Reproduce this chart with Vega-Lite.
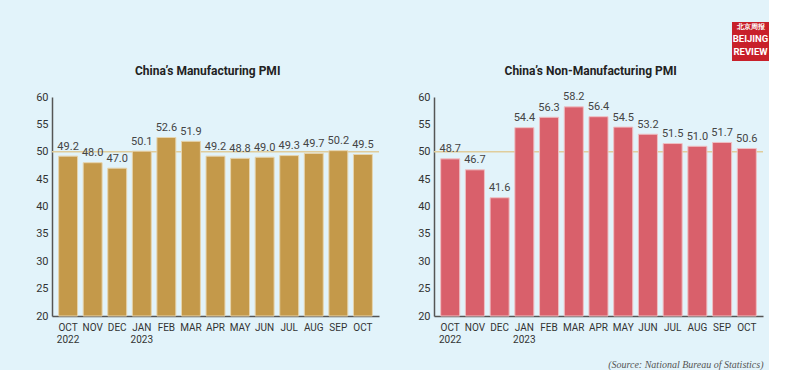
{
  "$schema": "https://vega.github.io/schema/vega-lite/v6.json",
  "background": "#e2f3fa",
  "padding": {"left": 35, "top": 22, "right": 0, "bottom": 0},
  "config": {
    "view": {"stroke": null},
    "font": "Roboto",
    "axis": {
      "domainColor": "#555555",
      "domainWidth": 1.5,
      "ticks": false,
      "grid": false,
      "labelColor": "#333333",
      "labelFont": "Roboto",
      "labelOverlap": false
    }
  },
  "datasets": {
    "pmi": [
      {"month": "OCT 2022", "mfg": 49.2, "nonmfg": 48.7},
      {"month": "NOV", "mfg": 48.0, "nonmfg": 46.7},
      {"month": "DEC", "mfg": 47.0, "nonmfg": 41.6},
      {"month": "JAN 2023", "mfg": 50.1, "nonmfg": 54.4},
      {"month": "FEB", "mfg": 52.6, "nonmfg": 56.3},
      {"month": "MAR", "mfg": 51.9, "nonmfg": 58.2},
      {"month": "APR", "mfg": 49.2, "nonmfg": 56.4},
      {"month": "MAY", "mfg": 48.8, "nonmfg": 54.5},
      {"month": "JUN", "mfg": 49.0, "nonmfg": 53.2},
      {"month": "JUL", "mfg": 49.3, "nonmfg": 51.5},
      {"month": "AUG", "mfg": 49.7, "nonmfg": 51.0},
      {"month": "SEP", "mfg": 50.2, "nonmfg": 51.7},
      {"month": "OCT", "mfg": 49.5, "nonmfg": 50.6}
    ],
    "logo": [
      {"line": "北京周报", "k": 1},
      {"line": "BEIJING", "k": 2},
      {"line": "REVIEW", "k": 3}
    ],
    "ref": [{"level": 50}]
  },
  "spacing": 4,
  "vconcat": [
    {
      "spacing": 0,
      "hconcat": [
        {
          "width": 680,
          "height": 39,
          "data": {"values": []},
          "mark": "text",
          "encoding": {}
        },
        {
          "width": 37,
          "height": 39,
          "view": {"fill": "#c8202a", "stroke": null},
          "data": {"name": "logo"},
          "mark": {"type": "text", "color": "white", "baseline": "middle", "fontWeight": "bold"},
          "encoding": {
            "text": {"field": "line"},
            "y": {"field": "k", "type": "quantitative", "scale": {"domain": [0.62, 3.74], "reverse": true, "nice": false, "zero": false}, "axis": null},
            "size": {"condition": {"test": "datum.k == 1", "value": 7}, "value": 9.5}
          }
        }
      ]
    },
    {
      "spacing": 37,
      "hconcat": [
        {
          "width": 327,
          "height": 219,
          "title": {"text": "China’s Manufacturing PMI", "font": "Roboto", "fontSize": 12, "fontWeight": "bold", "color": "#222222", "anchor": "middle", "frame": "bounds", "offset": 13},
          "data": {"name": "pmi"},
          "layer": [
            {
              "data": {"name": "ref"},
              "mark": {"type": "rule", "color": "#e0cd9c", "strokeWidth": 1.3},
              "encoding": {"y": {"field": "level", "type": "quantitative", "scale": {"domain": [20, 60], "nice": false, "zero": false},
                "axis": {"title": null, "values": [20, 25, 30, 35, 40, 45, 50, 55, 60], "labelPadding": 4, "labelFontSize": 11}}}
            },
            {
              "mark": {"type": "bar", "color": "#c4994a", "stroke": "#e6d4ae", "strokeWidth": 1},
              "encoding": {
                "x": {"field": "month", "type": "ordinal", "sort": null, "scale": {"paddingInner": 0.23, "paddingOuter": 0.27},
                  "axis": {"title": null, "labelAngle": 0, "labelPadding": 6, "labelFontSize": 10, "labelExpr": "split(datum.value, ' ')", "labelLineHeight": 12.5}},
                "y": {"field": "mfg", "type": "quantitative", "scale": {"domain": [20, 60], "nice": false, "zero": false},
                  "axis": {"title": null, "values": [20, 25, 30, 35, 40, 45, 50, 55, 60], "labelPadding": 4, "labelFontSize": 11}},
                "y2": {"datum": 20}
              }
            },
            {
              "mark": {"type": "text", "baseline": "alphabetic", "dy": -6.5, "fontSize": 11, "color": "#444444"},
              "encoding": {
                "x": {"field": "month", "type": "ordinal", "sort": null},
                "y": {"field": "mfg", "type": "quantitative",
                  "axis": {"title": null, "values": [20, 25, 30, 35, 40, 45, 50, 55, 60], "labelPadding": 4, "labelFontSize": 11}},
                "text": {"field": "mfg", "type": "quantitative", "format": ".1f"}
              }
            }
          ]
        },
        {
          "width": 329,
          "height": 219,
          "title": {"text": "China’s Non-Manufacturing PMI", "font": "Roboto", "fontSize": 12, "fontWeight": "bold", "color": "#222222", "anchor": "middle", "frame": "bounds", "offset": 13},
          "data": {"name": "pmi"},
          "layer": [
            {
              "data": {"name": "ref"},
              "mark": {"type": "rule", "color": "#e0cd9c", "strokeWidth": 1.3},
              "encoding": {"y": {"field": "level", "type": "quantitative", "scale": {"domain": [20, 60], "nice": false, "zero": false},
                "axis": {"title": null, "values": [20, 25, 30, 35, 40, 45, 50, 55, 60], "labelPadding": 4, "labelFontSize": 11}}}
            },
            {
              "mark": {"type": "bar", "color": "#d9606b", "stroke": "#efc0c4", "strokeWidth": 1},
              "encoding": {
                "x": {"field": "month", "type": "ordinal", "sort": null, "scale": {"paddingInner": 0.23, "paddingOuter": 0.27},
                  "axis": {"title": "(Source: National Bureau of Statistics)", "titleFont": "Liberation Serif", "titleFontStyle": "italic", "titleFontWeight": "normal", "titleFontSize": 10, "titleColor": "#555555", "titleAnchor": "end", "titlePadding": 15,
                    "labelAngle": 0, "labelPadding": 6, "labelFontSize": 10, "labelExpr": "split(datum.value, ' ')", "labelLineHeight": 12.5}},
                "y": {"field": "nonmfg", "type": "quantitative", "scale": {"domain": [20, 60], "nice": false, "zero": false},
                  "axis": {"title": null, "values": [20, 25, 30, 35, 40, 45, 50, 55, 60], "labelPadding": 4, "labelFontSize": 11}},
                "y2": {"datum": 20}
              }
            },
            {
              "mark": {"type": "text", "baseline": "alphabetic", "dy": -6.5, "fontSize": 11, "color": "#444444"},
              "encoding": {
                "x": {"field": "month", "type": "ordinal", "sort": null},
                "y": {"field": "nonmfg", "type": "quantitative",
                  "axis": {"title": null, "values": [20, 25, 30, 35, 40, 45, 50, 55, 60], "labelPadding": 4, "labelFontSize": 11}},
                "text": {"field": "nonmfg", "type": "quantitative", "format": ".1f"}
              }
            }
          ]
        }
      ]
    }
  ]
}
